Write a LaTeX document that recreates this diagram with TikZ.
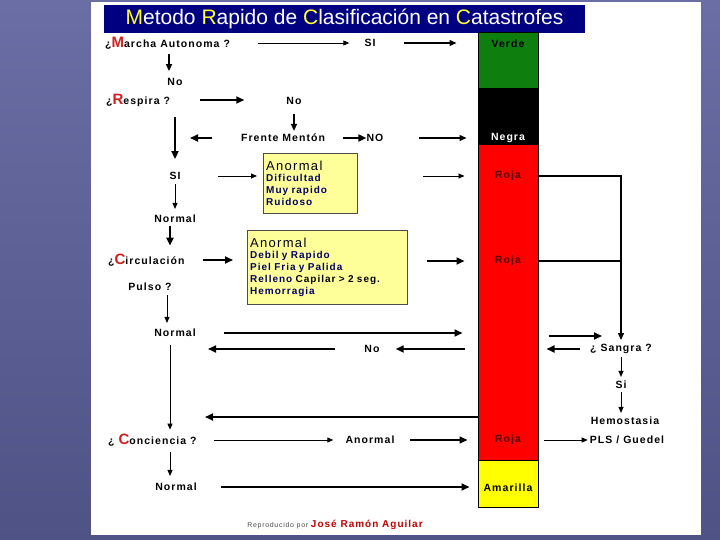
\documentclass[tikz,border=0pt]{standalone}
\usepackage{fontspec}
\setmainfont{Liberation Sans}
\newfontfamily\lblfont[LetterSpace=10]{Liberation Sans}
\usepackage{tikz}
\usetikzlibrary{positioning, arrows.meta}

\definecolor{ttlnavy}{HTML}{000080}
\definecolor{ttlyellow}{HTML}{FFFF33}
\definecolor{inired}{HTML}{D02020}
\definecolor{bandgreen}{HTML}{0E7F0E}
\definecolor{bandred}{HTML}{FF0000}
\definecolor{bandyellow}{HTML}{FFFF00}
\definecolor{boxyellow}{HTML}{FFFF99}
\definecolor{itemnavy}{HTML}{000066}
\definecolor{credred}{HTML}{C00000}
\definecolor{rojatext}{HTML}{5A0000}
\definecolor{slidetop}{HTML}{6B6EA4}
\definecolor{slidebot}{HTML}{4F5285}

\newcommand{\redcap}[1]{{\fontsize{15}{15}\selectfont\color{inired}#1}}
\newcommand{\ttlcap}[1]{\textcolor{ttlyellow}{#1}}

\begin{document}
\begin{tikzpicture}[
  x=1pt, y=-1pt,
  lbl/.style={inner sep=0pt, font={\lblfont\fontsize{10.5}{12}\selectfont\bfseries}},
  band/.style={draw, line width=1pt, minimum width=60pt, inner sep=0pt},
  bandlbl/.style={lbl},
  ttl/.style={fill=ttlnavy, text=white, minimum width=481pt, minimum height=28pt,
    inner sep=0pt, font=\fontsize{21}{24}\selectfont},
  anbox/.style={draw=black!70, fill=boxyellow, anchor=north west, align=left,
    inner sep=3pt, text=itemnavy},
  arr/.style={line width=0.9pt, -{Triangle[length=6pt, width=5pt]}},
  arrm/.style={line width=1.3pt, -{Triangle[length=7pt, width=6pt]}},
  arrb/.style={line width=1.8pt, -{Triangle[length=8pt, width=7pt]}},
]
  % slide background and white sheet
  \shade[top color=slidetop, bottom color=slidebot] (0,0) rectangle (720,540);
  \fill[white] (91,2) rectangle (701,535);
  \useasboundingbox (0,0) rectangle (720,540);

  \node[ttl] (title) at (344.5,19)
    {\ttlcap{M}etodo \ttlcap{R}apido de \ttlcap{C}lasificación en \ttlcap{C}atastrofes};

  % colour column
  \node[band, fill=bandgreen, minimum height=56pt] (verde) at (508,61) {};
  \node[band, fill=black, minimum height=56pt] (negra) at (508,117) {};
  \node[band, fill=bandred, minimum height=315pt] (roja) at (508,302.5) {};
  \node[band, fill=bandyellow, minimum height=47pt] (amarilla) at (508,483.5) {};
  \node[bandlbl, text=black] (verdeT) at (508,44) {Verde};
  \node[bandlbl, text=white] (negraT) at (508,138) {Negra};
  \node[bandlbl, text=rojatext] (rojaA) at (508,176) {Roja};
  \node[bandlbl, text=rojatext] (rojaB) at (508,261) {Roja};
  \node[bandlbl, text=rojatext] (rojaC) at (508,440) {Roja};
  \node[bandlbl] (amaT) at (508,488) {Amarilla};

  % left column
  \node[lbl, anchor=west] (marcha) at (105,43) {¿\redcap{M}archa Autonoma ?};
  \node[lbl] (si1) at (370,43) {SI};
  \node[lbl] (no1) at (175,82) {No};
  \node[lbl, anchor=west] (respira) at (106,100) {¿\redcap{R}espira ?};
  \node[lbl] (no2) at (294,101) {No};
  \node[lbl] (frente) at (283,138) {Frente Mentón};
  \node[lbl] (nO) at (375,138) {NO};
  \node[lbl] (si2) at (175,176) {SI};
  \node[lbl] (normal1) at (175,219) {Normal};
  \node[lbl, anchor=west] (circ) at (108,260) {¿\redcap{C}irculación};
  \node[lbl] (pulso) at (150,287) {Pulso ?};
  \node[lbl] (normal2) at (175,333) {Normal};
  \node[lbl] (no3) at (372,349) {No};
  \node[lbl, anchor=west] (conc) at (108,440) {¿ \redcap{C}onciencia ?};
  \node[lbl] (anormal) at (370,440) {Anormal};
  \node[lbl] (normal3) at (176,487) {Normal};

  % yellow boxes
  \node[anbox, text width=88pt, minimum height=60pt] (box1) at (263,153)
    {{\lblfont\fontsize{13}{14}\selectfont\color{black!90!blue}Anormal}\\[-1pt]
     {\lblfont\fontsize{10}{14}\selectfont\bfseries Dificultad}\\
     {\lblfont\fontsize{10}{14}\selectfont\bfseries Muy rapido}\\
     {\lblfont\fontsize{10}{14}\selectfont\bfseries Ruidoso}};
  \node[anbox, text width=154pt, minimum height=74pt] (box2) at (247,230)
    {{\lblfont\fontsize{13}{13}\selectfont\color{black!90!blue}Anormal}\\[-1pt]
     {\lblfont\fontsize{10}{13.3}\selectfont\bfseries Debil y Rapido}\\
     {\lblfont\fontsize{10}{13.3}\selectfont\bfseries Piel Fria y Palida}\\
     {\lblfont\fontsize{10}{13.3}\selectfont\bfseries Relleno \color{black}Capilar > 2 seg.}\\
     {\lblfont\fontsize{10}{13.3}\selectfont\bfseries Hemorragia}};

  % right column
  \node[lbl] (sangra) at (621,349) {¿ Sangra ?};
  \node[lbl] (si3) at (621,385) {Si};
  \node[lbl] (hemo) at (625,421) {Hemostasia};
  \node[lbl] (pls) at (627,440) {PLS / Guedel};

  \node[inner sep=0pt] (credit) at (335,525)
    {{\lblfont\fontsize{7}{8}\selectfont\color{black!70}Reproducido por}
     {\lblfont\fontsize{10}{12}\selectfont\bfseries\color{credred}José Ramón Aguilar}};

  % connectors
  \draw[arr, shorten <=28pt, shorten >=15pt] (marcha.east) -- (marcha.east -| si1.west);
  \draw[arrm, shorten <=28pt, shorten >=21pt] (si1.east) -- (si1.east -| verde.west);
  \draw[arrm, shorten <=5pt, shorten >=7pt] ([xshift=-6pt]no1.north |- marcha.south) -- ([xshift=-6pt]no1.north);
  \draw[arrb, shorten <=30pt, shorten >=42pt] (respira.east) -- (respira.east -| no2.west);
  \draw[arrb, shorten <=11pt, shorten >=13pt] (si2.north |- respira.south) -- (si2.north);
  \draw[arrm, shorten <=9pt, shorten >=3pt] (no2.south) -- (no2.south |- frente.north);
  \draw[arrb, shorten <=29pt, shorten >=15pt] (frente.west) -- (frente.west -| si2.north);
  \draw[arrb, shorten <=18pt] (frente.east) -- (nO.west);
  \draw[arrm, shorten <=35pt, shorten >=11pt] (nO.east) -- (nO.east -| negra.west);
  \draw[arr, shorten <=37pt, shorten >=6pt] (si2.east) -- (si2.east -| box1.west);
  \draw[arr, shorten <=66pt, shorten >=13pt] (box1.east |- rojaA) -- (rojaA -| roja.west);
  \draw[arr, shorten <=4pt, shorten >=6pt] (si2.south) -- (normal1.north);
  \draw[arrb, shorten <=3pt, shorten >=8pt] ([xshift=-5pt]normal1.south) -- ([xshift=-5pt]normal1.south |- circ.north);
  \draw[arrb, shorten <=18pt, shorten >=14pt] (circ.east) -- (circ.east -| box2.west);
  \draw[arrb, shorten <=20pt, shorten >=13pt] (box2.east |- rojaB) -- (rojaB -| roja.west);
  \draw[arr, shorten <=4pt, shorten >=6pt] ([xshift=-8pt]normal2.north |- pulso.south) -- ([xshift=-8pt]normal2.north);
  \draw[arrb, shorten <=28pt, shorten >=15pt] (normal2.east) -- (normal2.east -| roja.west);
  \draw[arrb, shorten <=13pt, shorten >=16pt] (no3.east -| roja.west) -- (no3.east);
  \draw[arrb, shorten <=29pt, shorten >=33pt] (no3.west) -- (no3.west -| normal2.south);
  \draw[arr, shorten <=8pt, shorten >=4pt] ([xshift=-5pt]normal2.south) -- ([xshift=-5pt]normal2.south |- conc.north);
  \coordinate (back) at (205,417);
  \draw[arrb] (back -| roja.west) -- (back);
  \draw[arr, shorten <=17pt, shorten >=12pt] (conc.east) -- (anormal.west);
  \draw[arrb, shorten <=15pt, shorten >=10pt] (anormal.east) -- (anormal.east -| roja.west);
  \draw[arr, shorten <=6pt, shorten >=7pt] ([xshift=-6pt]normal3.north |- conc.south) -- ([xshift=-6pt]normal3.north);
  \draw[arrb, shorten <=24pt, shorten >=8pt] (normal3.east) -- (normal3.east -| amarilla.west);

  \draw[arrm, shorten >=4pt] (rojaA -| roja.east) -| (sangra.north);
  \draw[line width=1.3pt] (rojaB -| roja.east) -- (rojaB -| sangra.north);
  \draw[arrb, shorten <=10pt, shorten >=19pt] ([yshift=-3pt]normal2.east -| roja.east) -- ([yshift=-3pt]normal2.east -| sangra.north);
  \draw[arrb, shorten <=10pt, shorten >=8pt] (sangra.west) -- (sangra.west -| roja.east);
  \draw[arr, shorten <=3pt, shorten >=4pt] (sangra.south) -- (si3.north);
  \draw[arr, shorten <=3pt, shorten >=4pt] (si3.south) -- (si3.south |- hemo.north);
  \draw[arr, shorten <=5pt, shorten >=2pt] (rojaC -| roja.east) -- (rojaC -| pls.west);
\end{tikzpicture}
\end{document}
